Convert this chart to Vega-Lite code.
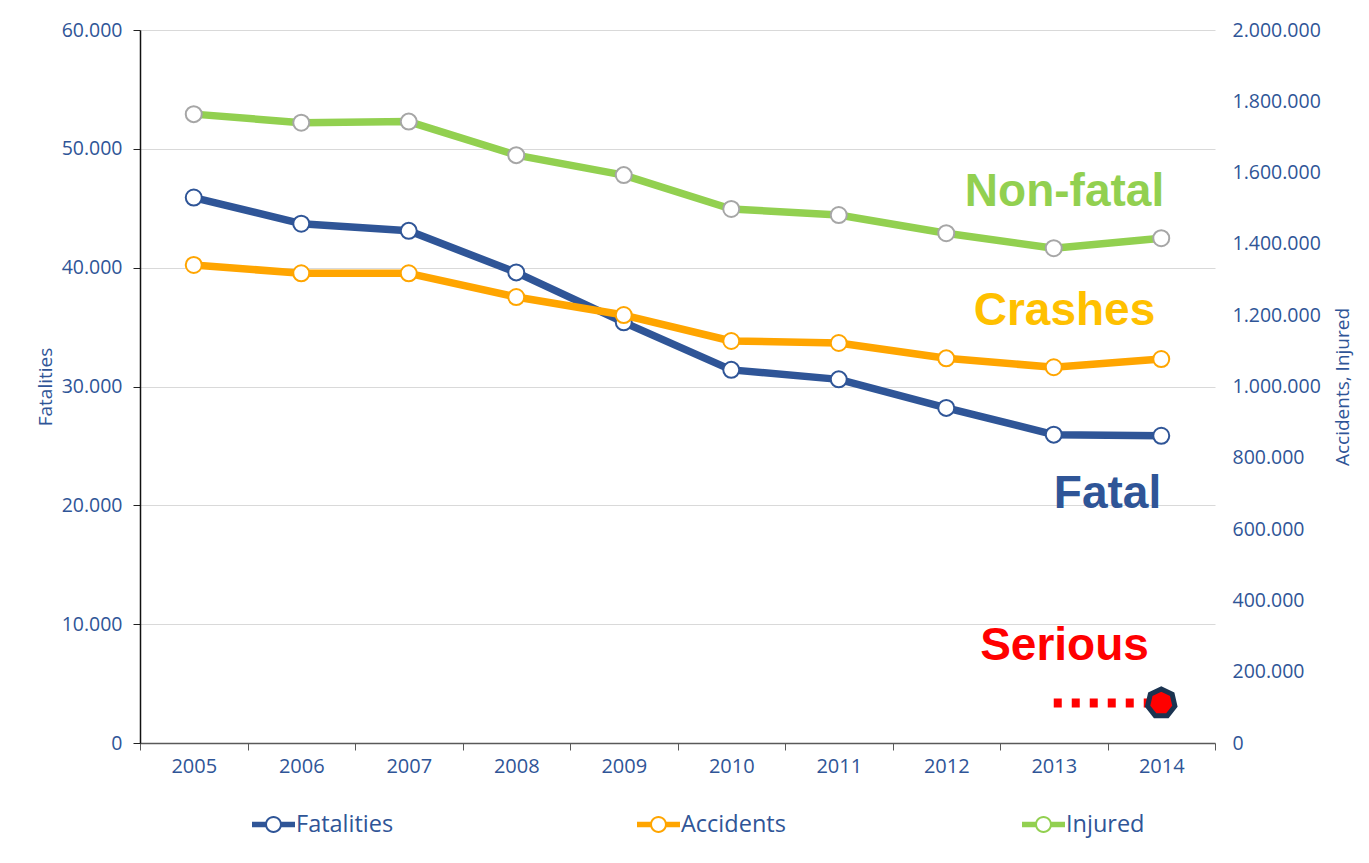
{
  "$schema": "https://vega.github.io/schema/vega-lite/v6.json",
  "width": 1075,
  "height": 713,
  "autosize": {"type": "none"},
  "padding": {"left": 140, "top": 30, "right": 154, "bottom": 120},
  "background": "white",
  "config": {
    "locale": {"number": {"decimal": ",", "thousands": ".", "grouping": [3], "currency": ["", " €"]}},
    "view": {"stroke": null},
    "font": "Open Sans",
    "axis": {"labelFont": "Open Sans", "titleFont": "Open Sans", "labelColor": "#2F5597", "titleColor": "#2F5597", "titleFontWeight": "normal"},
    "axisX": {"labelFontSize": 20, "tickBand": "extent", "tickSize": 7, "tickColor": "#595959", "domainColor": "#595959", "domainWidth": 1.5, "labelAngle": 0, "labelPadding": 6, "grid": false},
    "axisLeft": {"labelFontSize": 19.5, "tickSize": 7, "tickColor": "#222222", "domainColor": "#111111", "domainWidth": 1.5, "labelPadding": 11, "grid": true, "gridColor": "#D9D9D9", "titleFontSize": 19, "titlePadding": 6},
    "axisRight": {"labelFontSize": 19.5, "domain": false, "ticks": false, "tickSize": 0, "grid": false, "labelPadding": 17, "titleFontSize": 19, "titlePadding": 32, "titleAngle": 270}
  },
  "datasets": {
    "series": [
      {"year": "2005", "series": "Fatalities", "value": 45900},
      {"year": "2006", "series": "Fatalities", "value": 43700},
      {"year": "2007", "series": "Fatalities", "value": 43100},
      {"year": "2008", "series": "Fatalities", "value": 39600},
      {"year": "2009", "series": "Fatalities", "value": 35400},
      {"year": "2010", "series": "Fatalities", "value": 31400},
      {"year": "2011", "series": "Fatalities", "value": 30600},
      {"year": "2012", "series": "Fatalities", "value": 28200},
      {"year": "2013", "series": "Fatalities", "value": 25950},
      {"year": "2014", "series": "Fatalities", "value": 25850},
      {"year": "2005", "series": "Accidents", "value": 1341000},
      {"year": "2006", "series": "Accidents", "value": 1317500},
      {"year": "2007", "series": "Accidents", "value": 1317500},
      {"year": "2008", "series": "Accidents", "value": 1251000},
      {"year": "2009", "series": "Accidents", "value": 1200500},
      {"year": "2010", "series": "Accidents", "value": 1127600},
      {"year": "2011", "series": "Accidents", "value": 1122000},
      {"year": "2012", "series": "Accidents", "value": 1079000},
      {"year": "2013", "series": "Accidents", "value": 1054000},
      {"year": "2014", "series": "Accidents", "value": 1077000},
      {"year": "2005", "series": "Injured", "value": 1764000},
      {"year": "2006", "series": "Injured", "value": 1740000},
      {"year": "2007", "series": "Injured", "value": 1743000},
      {"year": "2008", "series": "Injured", "value": 1649000},
      {"year": "2009", "series": "Injured", "value": 1593000},
      {"year": "2010", "series": "Injured", "value": 1498000},
      {"year": "2011", "series": "Injured", "value": 1481000},
      {"year": "2012", "series": "Injured", "value": 1430000},
      {"year": "2013", "series": "Injured", "value": 1388000},
      {"year": "2014", "series": "Injured", "value": 1416000}
    ],
    "annotations": [
      {"label": "Non-fatal", "year": "2013", "value": 1506000},
      {"label": "Crashes", "year": "2013", "value": 1172500},
      {"label": "Serious", "year": "2013", "value": 232800}
    ],
    "fatal": [
      {"label": "Fatal", "year": "2014", "value": 659200}
    ],
    "serious": [
      {"year": "2013", "value": 112000},
      {"year": "2014", "value": 112000}
    ]
  },
  "layer": [
    {
      "data": {"name": "series"},
      "transform": [{"filter": "datum.series === 'Fatalities'"}],
      "layer": [
        {
          "mark": {"type": "line", "strokeWidth": 7.5, "strokeJoin": "round", "strokeCap": "round"},
          "encoding": {
            "x": {"field": "year", "type": "ordinal", "title": null, "scale": {"type": "band", "paddingInner": 0, "paddingOuter": 0}},
            "y": {"field": "value", "type": "quantitative", "title": "Fatalities", "scale": {"domain": [0, 60000], "nice": false, "zero": true}, "axis": {"orient": "left", "values": [0, 10000, 20000, 30000, 40000, 50000, 60000], "format": ",d"}},
            "color": {
              "field": "series", "type": "nominal",
              "scale": {"domain": ["Fatalities", "Accidents", "Injured"], "range": ["#2F5597", "#FFA500", "#92D050"]},
              "legend": {
                "orient": "none", "legendX": 112, "legendY": 773, "direction": "horizontal", "columns": 3, "gridAlign": "all", "columnPadding": 236, "title": null, "padding": 0,
                "symbolType": "M-1,-0.13L-0.36,-0.13L-0.36,0.13L-1,0.13Z M0.36,-0.13L1,-0.13L1,0.13L0.36,0.13Z M0.395,0A0.395,0.395,0,1,1,-0.395,0A0.395,0.395,0,1,1,0.395,0Z M0.3,0A0.3,0.3,0,1,0,-0.3,0A0.3,0.3,0,1,0,0.3,0Z",
                "symbolSize": 1849, "symbolStrokeWidth": 0,
                "labelFont": "Open Sans", "labelFontSize": 23.5, "labelColor": "#2F5597", "labelOffset": 1, "labelLimit": 300,
                "encode": {"symbols": {"update": {"fill": {"scale": "color", "field": "value"}, "fillOpacity": {"value": 1}, "opacity": {"value": 1}, "strokeWidth": {"value": 0}}}}
              }
            }
          }
        },
        {
          "mark": {"type": "point", "filled": true, "fill": "white", "size": 256, "strokeWidth": 2, "opacity": 1},
          "encoding": {
            "x": {"field": "year", "type": "ordinal", "title": null},
            "y": {"field": "value", "type": "quantitative", "title": "Fatalities"},
            "stroke": {"field": "series", "type": "nominal", "scale": {"domain": ["Fatalities", "Accidents", "Injured"], "range": ["#2F5597", "#FFA500", "#A6A6A6"]}, "legend": null}
          }
        }
      ]
    },
    {
      "layer": [
        {
          "data": {"name": "series"},
          "transform": [{"filter": "datum.series !== 'Fatalities'"}],
          "mark": {"type": "line", "strokeWidth": 7.5, "strokeJoin": "round", "strokeCap": "round"},
          "encoding": {
            "x": {"field": "year", "type": "ordinal", "title": null},
            "y": {"field": "value", "type": "quantitative", "title": "Accidents, Injured", "scale": {"domain": [0, 2000000], "nice": false, "zero": true}, "axis": {"orient": "right", "values": [0, 200000, 400000, 600000, 800000, 1000000, 1200000, 1400000, 1600000, 1800000, 2000000], "format": ",d"}},
            "color": {"field": "series", "type": "nominal", "scale": {"domain": ["Fatalities", "Accidents", "Injured"], "range": ["#2F5597", "#FFA500", "#92D050"]}}
          }
        },
        {
          "data": {"name": "series"},
          "transform": [{"filter": "datum.series !== 'Fatalities'"}],
          "mark": {"type": "point", "filled": true, "fill": "white", "size": 256, "strokeWidth": 2, "opacity": 1},
          "encoding": {
            "x": {"field": "year", "type": "ordinal", "title": null},
            "y": {"field": "value", "type": "quantitative", "title": "Accidents, Injured"},
            "stroke": {"field": "series", "type": "nominal", "scale": {"domain": ["Fatalities", "Accidents", "Injured"], "range": ["#2F5597", "#FFA500", "#A6A6A6"]}, "legend": null}
          }
        },
        {
          "data": {"name": "serious"},
          "mark": {"type": "line", "color": "#FF0000", "strokeWidth": 9, "strokeDash": [8, 10], "strokeCap": "butt"},
          "encoding": {
            "x": {"field": "year", "type": "ordinal", "title": null},
            "y": {"field": "value", "type": "quantitative", "title": "Accidents, Injured"}
          }
        },
        {
          "data": {"name": "serious"},
          "transform": [{"filter": "datum.year === '2014'"}],
          "mark": {"type": "point", "shape": "M0,-1L0.782,-0.623L0.975,0.223L0.434,0.901L-0.434,0.901L-0.975,0.223L-0.782,-0.623Z", "filled": true, "fill": "#FF0000", "stroke": "#1B3350", "strokeWidth": 5, "size": 784, "opacity": 1},
          "encoding": {
            "x": {"field": "year", "type": "ordinal", "title": null},
            "y": {"field": "value", "type": "quantitative", "title": "Accidents, Injured"}
          }
        },
        {
          "data": {"name": "annotations"},
          "mark": {"type": "text", "font": "Liberation Sans", "fontSize": 46, "fontWeight": "bold", "baseline": "alphabetic", "align": "center"},
          "encoding": {
            "x": {"field": "year", "type": "ordinal", "title": null, "bandPosition": 0.6},
            "y": {"field": "value", "type": "quantitative", "title": "Accidents, Injured"},
            "text": {"field": "label"},
            "fill": {"field": "label", "type": "nominal", "scale": {"domain": ["Non-fatal", "Crashes", "Fatal", "Serious"], "range": ["#92D050", "#FFC000", "#2F5597", "#FF0000"]}, "legend": null}
          }
        },
        {
          "data": {"name": "fatal"},
          "mark": {"type": "text", "font": "Liberation Sans", "fontSize": 46, "fontWeight": "bold", "baseline": "alphabetic", "align": "center"},
          "encoding": {
            "x": {"field": "year", "type": "ordinal", "title": null, "bandPosition": 0},
            "y": {"field": "value", "type": "quantitative", "title": "Accidents, Injured"},
            "text": {"field": "label"},
            "fill": {"field": "label", "type": "nominal", "scale": {"domain": ["Non-fatal", "Crashes", "Fatal", "Serious"], "range": ["#92D050", "#FFC000", "#2F5597", "#FF0000"]}, "legend": null}
          }
        }
      ]
    }
  ],
  "resolve": {"scale": {"y": "independent"}}
}
